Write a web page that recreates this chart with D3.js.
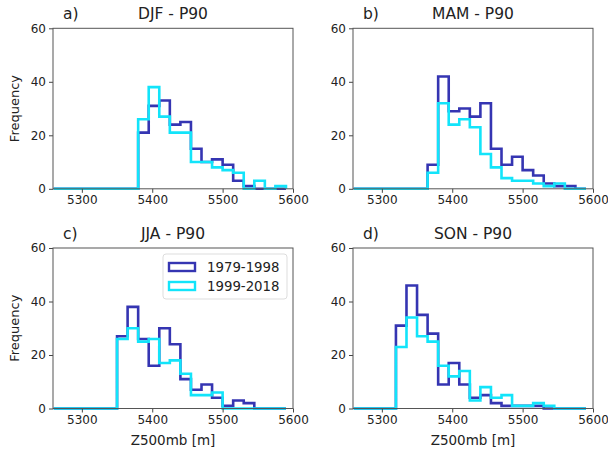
<!DOCTYPE html>
<html>
<head>
<meta charset="utf-8">
<script src="https://cdn.jsdelivr.net/npm/d3@7"></script>
<style>
  body { margin: 0; background: #fff; }
  text { font-family: "DejaVu Sans", sans-serif; fill: #222; }
</style>
</head>
<body>
<svg width="608" height="453"></svg>
<script>
// bin edges of the histograms (15 m bins)
const binEdges = d3.range(5260, 5591, 15);

const panelLabels = ['a)', 'b)', 'c)', 'd)'];
const panelTitles = ['DJF - P90', 'MAM - P90', 'JJA - P90', 'SON - P90'];
const seriesNames = ['1979-1998', '1999-2018'];
const xTicks = [5300, 5400, 5500, 5600];
const yTicks = [0, 20, 40, 60];

// counts per bin, 1979-1998
const djfOld = [0,0,0,0,0,0,0,0, 21,31,33,24,25,15,10,11,9,3,1,0,0,0];
const mamOld = [0,0,0,0,0,0,0, 9,42,29,30,27,32,15,9,12,7,5,2,1,1,0];
const jjaOld = [0,0,0,0,0,0, 27,38,26,16,30,24,11,7,9,4,1,3,2,0,0,0];
const sonOld = [0,0,0,0, 31,46,35,28,9,17,9,4,5,2,1,1,1,1,0,0,0,0];

// counts per bin, 1999-2018
const djfNew = [0,0,0,0,0,0,0,0, 26,38,27,21,21,10,10,8,7,6,0,3,0,1];
const mamNew = [0,0,0,0,0,0,0, 6,32,24,26,23,13,8,4,3,3,2,1,2,0,0];
const jjaNew = [0,0,0,0,0,0, 26,30,25,26,17,18,13,5,5,6,0,0,0,0,0,0];
const sonNew = [0,0,0,0, 23,34,27,25,16,12,14,3,8,4,5,1,1,2,1,0,0,0];

const oldSeries = [djfOld, mamOld, jjaOld, sonOld];
const newSeries = [djfNew, mamNew, jjaNew, sonNew];
const colors = ['#3535b2', '#12e4fa'];

const svg = d3.select('svg');
const w = 240, h = 160.5;
const origins = [[53, 28.3], [353, 28.3], [53, 248], [353, 248]];

const x = d3.scaleLinear().domain([5259, 5600]).range([0, w]);
const y = d3.scaleLinear().domain([0, 60]).range([h, 0]);

// step outline of a histogram, like matplotlib histtype='step'
const stepPath = counts => {
  const pts = [[binEdges[0], 0]];
  counts.forEach((c, i) => {
    pts.push([binEdges[i], c]);
    pts.push([binEdges[i + 1], c]);
  });
  pts.push([binEdges[binEdges.length - 1], 0]);
  return d3.line().x(d => x(d[0])).y(d => y(d[1]))(pts);
};

origins.forEach(([ox, oy], p) => {
  const g = svg.append('g').attr('transform', `translate(${ox},${oy})`);

  // histograms, old period first, new on top
  [oldSeries[p], newSeries[p]].forEach((counts, s) => {
    g.append('path')
      .attr('d', stepPath(counts))
      .attr('fill', 'none')
      .attr('stroke', colors[s])
      .attr('stroke-width', 2.6)
      .attr('stroke-linejoin', 'miter');
  });

  // axes
  const xAxis = g.append('g')
    .attr('transform', `translate(0,${h})`)
    .call(d3.axisBottom(x).tickValues(xTicks).tickSize(4).tickPadding(3).tickFormat(d3.format('d')));
  const yAxis = g.append('g')
    .call(d3.axisLeft(y).tickValues(yTicks).tickSize(4).tickPadding(3));
  [xAxis, yAxis].forEach(a => {
    a.select('.domain').remove();
    a.selectAll('line').attr('stroke', '#444');
    a.selectAll('text').style('font-size', '12px').attr('fill', '#222');
  });

  // frame
  g.append('rect')
    .attr('width', w).attr('height', h)
    .attr('fill', 'none').attr('stroke', '#555').attr('stroke-width', 1);

  // titles
  g.append('text').attr('x', 10).attr('y', -9)
    .style('font-size', '15.5px').text(panelLabels[p]);
  g.append('text').attr('x', w / 2).attr('y', -9)
    .attr('text-anchor', 'middle').style('font-size', '15.5px').text(panelTitles[p]);

  if (p % 2 === 0) {
    g.append('text')
      .attr('transform', `translate(-34,${h / 2}) rotate(-90)`)
      .attr('text-anchor', 'middle').style('font-size', '13px').text('Frequency');
  }
  if (p >= 2) {
    g.append('text').attr('x', w / 2).attr('y', h + 36)
      .attr('text-anchor', 'middle').style('font-size', '13.5px').text('Z500mb [m]');
  }

  // legend in panel c
  if (p === 2) {
    const lg = g.append('g').attr('transform', 'translate(110,6)');
    lg.append('rect')
      .attr('width', 124).attr('height', 45).attr('rx', 3)
      .attr('fill', '#fff').attr('stroke', '#ddd');
    seriesNames.forEach((name, s) => {
      lg.append('rect')
        .attr('x', 6).attr('y', 9 + s * 19).attr('width', 26).attr('height', 8)
        .attr('fill', 'none').attr('stroke', colors[s]).attr('stroke-width', 2.4);
      lg.append('text')
        .attr('x', 44).attr('y', 18 + s * 19)
        .style('font-size', '13.3px').text(name);
    });
  }
});
</script>
</body>
</html>
